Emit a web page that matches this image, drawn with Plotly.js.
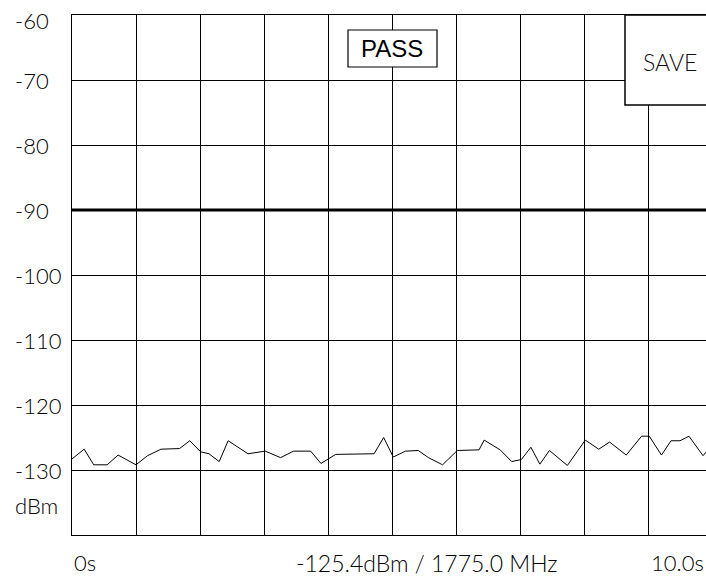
<!DOCTYPE html>
<html>
<head>
<meta charset="utf-8">
<script src="https://cdn.plot.ly/plotly-3.0.1.min.js"></script>
<style>
html,body{margin:0;padding:0;overflow:hidden;background:#fff;}
#chart{width:720px;height:576px;}
</style>
</head>
<body>
<div id="chart"></div>
<script>
// ---- data ----
const timeS = [0, 0.19, 0.34, 0.55, 0.72, 1.0, 1.18, 1.39, 1.68, 1.84, 2.01, 2.14, 2.30, 2.44,
  2.75, 3.02, 3.26, 3.46, 3.73, 3.89, 4.12, 4.72, 4.87, 5.02, 5.21, 5.41, 5.57, 5.79,
  6.02, 6.36, 6.44, 6.69, 6.87, 7.02, 7.17, 7.31, 7.46, 7.74, 8.02, 8.23, 8.40, 8.66,
  8.90, 9.02, 9.21, 9.36, 9.50, 9.64, 9.86, 10.0];
const levelDbm = [-128.3, -126.8, -129.2, -129.2, -127.7, -129.2, -127.8, -126.8, -126.7, -125.5,
  -127.2, -127.5, -128.7, -125.5, -127.5, -127.1, -128.1, -127.1, -127.1, -129.0,
  -127.6, -127.5, -125.0, -128.0, -127.1, -127.0, -128.1, -129.2, -127.0, -126.9,
  -125.4, -126.9, -128.7, -128.4, -126.5, -129.1, -127.0, -129.3, -125.4, -126.8,
  -125.7, -127.7, -124.8, -124.8, -127.7, -125.5, -125.5, -124.8, -127.8, -126.2];
const limitT = [0, 10];
const limitDbm = [-90, -90];
const yTickVals = [-60, -70, -80, -90, -100, -110, -120, -130];
const yTickText = ["-60", "-70", "-80", "-90", "-100", "-110", "-120", "-130"];
const yUnit = "dBm";
const yUnitLevel = -135.5;
const xStartText = "0s";
const xEndText = "10.0s";
const markerText = "-125.4dBm / 1775.0 MHz";
const passText = "PASS";
const saveText = "SAVE";

// ---- drawing ----
const lightFont = {family: "Lato", size: 22, weight: 300, color: "#000"};
const midFont = {family: "Lato", size: 23, weight: 300, color: "#000"};

const traces = [
  {x: timeS, y: levelDbm, type: "scatter", mode: "lines",
   line: {color: "#000", width: 1}, hoverinfo: "skip"},
  {x: limitT, y: limitDbm, type: "scatter", mode: "lines",
   line: {color: "#000", width: 3}, hoverinfo: "skip"}
];

const annotations = [];
yTickVals.forEach((v, i) => {
  annotations.push({xref: "paper", yref: "y", x: -59 / 640, y: v, xanchor: "left", yanchor: "middle",
    text: yTickText[i], showarrow: false, font: lightFont, yshift: i === 0 ? -5 : 0});
});
annotations.push({xref: "paper", yref: "y", x: -59 / 640, y: yUnitLevel, xanchor: "left", yanchor: "middle",
  text: yUnit, showarrow: false, font: lightFont});
annotations.push({xref: "paper", yref: "paper", x: 0, y: -0.053, xanchor: "left", yanchor: "middle",
  text: xStartText, showarrow: false, font: lightFont});
annotations.push({xref: "paper", yref: "paper", x: (706 - 72) / 640, y: -0.053, xanchor: "right", yanchor: "middle",
  text: xEndText, showarrow: false, font: lightFont});
annotations.push({xref: "paper", yref: "paper", x: (426 - 72) / 640, y: -0.053, xanchor: "center", yanchor: "middle",
  text: markerText, showarrow: false, font: midFont});
annotations.push({xref: "paper", yref: "paper", x: 0.5, y: (535 - 48.5) / 520, xanchor: "center", yanchor: "middle",
  text: passText, showarrow: false, font: {family: "Liberation Sans", size: 24, color: "#000"}});
annotations.push({xref: "paper", yref: "paper", x: (670 - 72) / 640, y: (535 - 62) / 520, xanchor: "center", yanchor: "middle",
  text: saveText, showarrow: false, font: {family: "Lato", size: 23, weight: 300, color: "#111"}});

const shapes = [
  {type: "rect", xref: "paper", yref: "paper", x0: (348 - 72) / 640, x1: (437 - 72) / 640,
   y0: (535 - 67) / 520, y1: (535 - 30) / 520, fillcolor: "#fff", line: {color: "#000", width: 1.2}, layer: "above"},
  {type: "rect", xref: "paper", yref: "paper", x0: (625 - 72) / 640, x1: 1.05,
   y0: (535 - 105) / 520, y1: 1.0, fillcolor: "#fff", line: {color: "#000", width: 1.5}, layer: "above"}
];

const layout = {
  width: 720, height: 576,
  margin: {l: 72, r: 8, t: 15, b: 41},
  paper_bgcolor: "#fff", plot_bgcolor: "#fff",
  showlegend: false,
  xaxis: {range: [0, 10], dtick: 1, tick0: 0, showgrid: true, gridcolor: "#000", gridwidth: 1,
    zeroline: false, showline: true, linecolor: "#000", linewidth: 1, mirror: true,
    showticklabels: false, ticks: "", fixedrange: true},
  yaxis: {range: [-140, -60], dtick: 10, tick0: -140, showgrid: true, gridcolor: "#000", gridwidth: 1,
    zeroline: false, showline: true, linecolor: "#000", linewidth: 1, mirror: true,
    showticklabels: false, ticks: "", fixedrange: true},
  annotations: annotations,
  shapes: shapes
};

Plotly.newPlot("chart", traces, layout, {displayModeBar: false, staticPlot: true});
</script>
</body>
</html>
